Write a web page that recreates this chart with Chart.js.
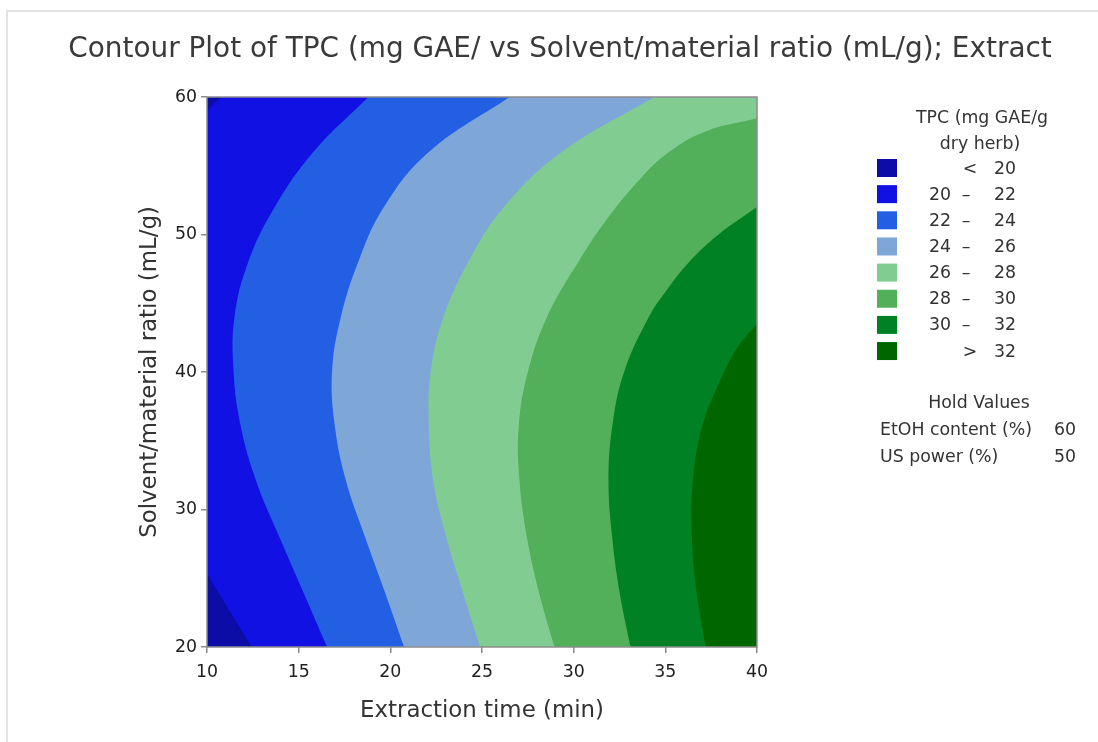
<!DOCTYPE html>
<html>
<head>
<meta charset="utf-8">
<script src="https://cdn.jsdelivr.net/npm/chart.js@4.4.1/dist/chart.umd.min.js"></script>
<style>
html,body{margin:0;padding:0;background:#fff;}
canvas{display:block;}
</style>
</head>
<body>
<canvas id="c" width="1098" height="742"></canvas>
<script>
// ---------- data ----------
const xTicks = [10, 15, 20, 25, 30, 35, 40];
const yTicks = [20, 30, 40, 50, 60];
const levelBreaks = [20, 22, 24, 26, 28, 30, 32];
const levelColors = ['#0c0ca6', '#1111e4', '#235fe2', '#7ea7d8', '#81cd91', '#52af5a', '#008224', '#006600'];

// contour lines: extraction time (min) read at solvent/material ratio (mL/g)
const c20aRatio = [20, 22.7, 25.35];
const c20aTime  = [12.45, 11.2, 10];
const c20bRatio = [58.98, 60];
const c20bTime  = [10, 10.76];
const c22Ratio = [20, 24, 28, 32, 36, 40, 44, 48, 52, 56, 60];
const c22Time  = [16.55, 15.25, 13.95, 12.7, 11.85, 11.45, 11.5, 12.25, 13.7, 15.8, 18.8];
const c24Ratio = [20, 24, 28, 32, 36, 40, 44, 48, 52, 56, 60];
const c24Time  = [20.75, 19.7, 18.62, 17.6, 16.98, 16.82, 17.3, 18.25, 19.65, 22.1, 26.5];
const c26Ratio = [20, 24, 28, 32, 36, 40, 44, 48, 52, 56, 60];
const c26Time  = [24.9, 23.95, 23.05, 22.35, 22.1, 22.2, 22.9, 24.25, 26.2, 29.35, 34.4];
const c28Ratio = [20, 24, 28, 32, 36, 40, 44, 48, 51, 54, 56, 57.5, 58.45];
const c28Time  = [28.95, 28.1, 27.45, 27.05, 27.0, 27.5, 28.55, 30.25, 31.75, 33.6, 35.2, 37.2, 40];
const c30Ratio = [20, 24, 28, 32, 36, 40, 44, 46, 48, 50, 52];
const c30Time  = [33.1, 32.5, 32.1, 31.9, 32.1, 32.75, 34.1, 35.1, 36.3, 37.9, 40];
const c32Ratio = [20, 24, 28, 32, 36, 40, 42, 43.5];
const c32Time  = [37.2, 36.7, 36.45, 36.5, 37.0, 38.2, 39.05, 40];

const holdNames  = ['EtOH content (%)', 'US power (%)'];
const holdValues = [60, 50];

const TITLE  = 'Contour Plot of TPC (mg GAE/ vs Solvent/material ratio (mL/g); Extract';
const XTITLE = 'Extraction time (min)';
const YTITLE = 'Solvent/material ratio (mL/g)';
const LEGEND_TITLE = ['TPC (mg GAE/g', 'dry herb)'];

// ---------- fonts ----------
const FONT = '"DejaVu Sans", "Open Sans", sans-serif';
const TEXT = '#333333';
const meas = document.createElement('canvas').getContext('2d');
function fitSize(text, target) {
  meas.font = '100px ' + FONT;
  return 100 * target / meas.measureText(text).width;
}
const titleSize  = fitSize(TITLE, 984);
const xTitleSize = fitSize(XTITLE, 244);
const yTitleSize = fitSize(YTITLE, 332);
const legendSize = fitSize(holdNames[0], 152);
const tickSize   = legendSize;

// ---------- geometry helpers (closing polygons outside the plot) ----------
const X_MIN = xTicks[0], X_MAX = xTicks[xTicks.length - 1];
const Y_MIN = yTicks[0], Y_MAX = yTicks[yTicks.length - 1];
const FAR = {xl: X_MIN - 50, xr: X_MAX + 50, yb: Y_MIN - 60, yt: Y_MAX + 80};
const BL = {x: FAR.xl, y: FAR.yb}, BR = {x: FAR.xr, y: FAR.yb};
const TR = {x: FAR.xr, y: FAR.yt}, TL = {x: FAR.xl, y: FAR.yt};

function ext(p, q, k) { return {x: p.x + (p.x - q.x) * k, y: p.y + (p.y - q.y) * k}; }
function polygon(times, ratios, startCorners, endCorners) {
  const pts = times.map((t, i) => ({x: t, y: ratios[i]}));
  const n = pts.length;
  const s1 = ext(pts[0], pts[1], 1), s2 = ext(pts[0], pts[1], 6);
  const e1 = ext(pts[n - 1], pts[n - 2], 1), e2 = ext(pts[n - 1], pts[n - 2], 6);
  return [...startCorners, s2, s1, ...pts, e1, e2, ...endCorners];
}

// paint order: bottom layer first
const layers = [
  {data: [BL, BR, TR, TL], color: levelColors[7], tension: 0},
  {data: polygon(c32Time, c32Ratio, [BL], [TR, TL]), color: levelColors[6]},
  {data: polygon(c30Time, c30Ratio, [BL], [TR, TL]), color: levelColors[5]},
  {data: polygon(c28Time, c28Ratio, [BL], [TR, TL]), color: levelColors[4]},
  {data: polygon(c26Time, c26Ratio, [BL], [TL]), color: levelColors[3]},
  {data: polygon(c24Time, c24Ratio, [BL], [TL]), color: levelColors[2]},
  {data: polygon(c22Time, c22Ratio, [BL], [TL]), color: levelColors[1]},
  {data: polygon(c20aTime, c20aRatio, [BL], []), color: levelColors[0]},
  {data: polygon(c20bTime, c20bRatio, [], [TL]), color: levelColors[0]}
];

const datasets = layers.map((l, i) => ({
  data: l.data,
  showLine: true,
  fill: 'shape',
  backgroundColor: l.color,
  borderColor: l.color,
  borderWidth: 0,
  pointRadius: 0,
  pointHoverRadius: 0,
  tension: l.tension === undefined ? 0.4 : l.tension,
  capBezierPoints: false,
  order: layers.length - i
}));

// ---------- plugins ----------
const pageFrame = {
  id: 'pageFrame',
  beforeDraw(chart) {
    const ctx = chart.ctx;
    ctx.save();
    ctx.fillStyle = '#e2e2e2';
    ctx.fillRect(6, 10, chart.width - 6, 2);
    ctx.fillRect(6, 10, 2, chart.height - 10);
    ctx.restore();
  }
};

const plotFrame = {
  id: 'plotFrame',
  afterDatasetsDraw(chart) {
    const {ctx, chartArea: a} = chart;
    ctx.save();
    ctx.strokeStyle = '#8c8c8c';
    ctx.lineWidth = 1.5;
    ctx.strokeRect(a.left, a.top, a.right - a.left, a.bottom - a.top);
    ctx.restore();
  }
};

const contourLegend = {
  id: 'contourLegend',
  afterDraw(chart) {
    const ctx = chart.ctx;
    ctx.save();
    ctx.font = legendSize + 'px ' + FONT;
    ctx.fillStyle = TEXT;
    ctx.textBaseline = 'middle';
    ctx.textAlign = 'center';
    ctx.fillText(LEGEND_TITLE[0], 982, 118);
    ctx.fillText(LEGEND_TITLE[1], 980, 144);
    const n = levelColors.length;
    for (let i = 0; i < n; i++) {
      const cy = 168 + i * 26.15;
      ctx.fillStyle = levelColors[i];
      ctx.fillRect(877, cy - 9, 20, 18);
      ctx.fillStyle = TEXT;
      if (i === 0) {
        ctx.textAlign = 'center'; ctx.fillText('<', 970, cy + 1);
        ctx.textAlign = 'right'; ctx.fillText(String(levelBreaks[0]), 1016, cy + 1);
      } else if (i === n - 1) {
        ctx.textAlign = 'center'; ctx.fillText('>', 970, cy + 1);
        ctx.textAlign = 'right'; ctx.fillText(String(levelBreaks[n - 2]), 1016, cy + 1);
      } else {
        ctx.textAlign = 'right'; ctx.fillText(String(levelBreaks[i - 1]), 951, cy + 1);
        ctx.textAlign = 'center'; ctx.fillText('\u2013', 966, cy + 1);
        ctx.textAlign = 'right'; ctx.fillText(String(levelBreaks[i]), 1016, cy + 1);
      }
    }
    ctx.textAlign = 'center';
    ctx.fillText('Hold Values', 979, 403);
    for (let i = 0; i < holdNames.length; i++) {
      const cy = 430 + i * 27;
      ctx.textAlign = 'left'; ctx.fillText(holdNames[i], 880, cy);
      ctx.textAlign = 'right'; ctx.fillText(String(holdValues[i]), 1076, cy);
    }
    ctx.restore();
  }
};

// ---------- chart ----------
const titleLH = titleSize * 1.2, xLH = xTitleSize * 1.2, yLH = yTitleSize * 1.2;
new Chart(document.getElementById('c'), {
  type: 'scatter',
  data: {datasets},
  options: {
    responsive: false,
    animation: false,
    devicePixelRatio: 1,
    events: [],
    layout: {padding: {left: 22, right: 0, top: 0, bottom: 0}},
    elements: {line: {capBezierPoints: false}},
    plugins: {
      legend: {display: false},
      tooltip: {enabled: false},
      filler: {drawTime: 'beforeDatasetDraw'},
      title: {
        display: true,
        text: TITLE,
        color: '#3a3a3a',
        font: {family: FONT, size: titleSize, weight: 'normal'},
        padding: {top: 50 - titleLH / 2, bottom: 97 - (50 - titleLH / 2) - titleLH}
      }
    },
    scales: {
      x: {
        type: 'linear',
        position: 'bottom',
        min: X_MIN, max: X_MAX,
        afterBuildTicks(s) { s.ticks = xTicks.map(v => ({value: v})); },
        afterFit(s) { s.height = 95; },
        ticks: {color: '#1e1e1e', font: {family: FONT, size: tickSize}, padding: 9},
        grid: {display: true, drawOnChartArea: false, drawTicks: true, tickLength: 6, color: '#8c8c8c', lineWidth: 1.5},
        border: {display: false},
        title: {display: true, text: XTITLE, color: TEXT,
                font: {family: FONT, size: xTitleSize}, padding: {top: 0, bottom: 31 - xLH / 2}}
      },
      y: {
        type: 'linear',
        position: 'left',
        min: Y_MIN, max: Y_MAX,
        afterBuildTicks(s) { s.ticks = yTicks.map(v => ({value: v})); },
        afterFit(s) { s.width = 185; },
        ticks: {color: '#1e1e1e', font: {family: FONT, size: tickSize}, padding: 4},
        grid: {display: true, drawOnChartArea: false, drawTicks: true, tickLength: 6, color: '#8c8c8c', lineWidth: 1.5},
        border: {display: false},
        title: {display: true, text: YTITLE, color: TEXT,
                font: {family: FONT, size: yTitleSize}, padding: {top: 128 - yLH / 2, bottom: 0}}
      },
      yR: {
        type: 'linear',
        position: 'right',
        min: 0, max: 1,
        afterFit(s) { s.width = 341; },
        ticks: {display: false},
        grid: {display: false},
        border: {display: false}
      }
    }
  },
  plugins: [pageFrame, plotFrame, contourLegend]
});
</script>
</body>
</html>
